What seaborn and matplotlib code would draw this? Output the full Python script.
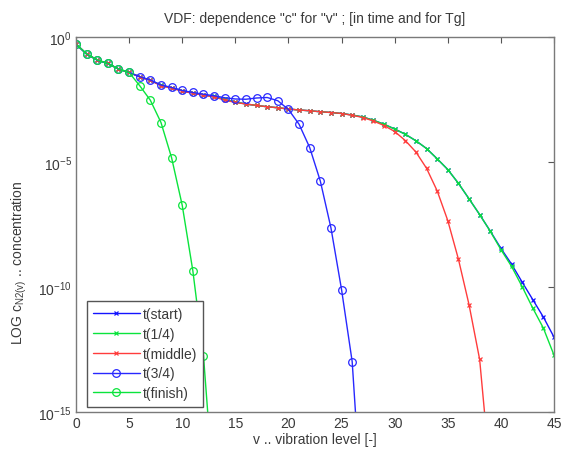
import numpy as np
import pandas as pd
import matplotlib
matplotlib.use("Agg")
import matplotlib.pyplot as plt
import seaborn as sns

# vibrational distribution, log10 of the concentration per level
v_start = list(range(0, 46))
log_c_start = [-0.28, -0.68, -0.92, -1.06, -1.28, -1.42, -1.59, -1.73, -1.93, -2.03,
               -2.15, -2.23, -2.31, -2.38, -2.50, -2.60, -2.68, -2.74, -2.79, -2.83,
               -2.88, -2.92, -2.95, -2.99, -3.02, -3.06, -3.12, -3.20, -3.33, -3.49,
               -3.68, -3.89, -4.15, -4.46, -4.87, -5.30, -5.85, -6.47, -7.10, -7.76,
               -8.45, -9.08, -9.80, -10.50, -11.20, -12.00]

v_quarter = list(range(0, 46))
log_c_quarter = [-0.28, -0.68, -0.92, -1.06, -1.28, -1.42, -1.59, -1.73, -1.93, -2.03,
                 -2.15, -2.23, -2.31, -2.38, -2.50, -2.60, -2.68, -2.74, -2.79, -2.83,
                 -2.88, -2.92, -2.95, -2.99, -3.02, -3.06, -3.12, -3.20, -3.33, -3.49,
                 -3.68, -3.89, -4.15, -4.46, -4.87, -5.30, -5.85, -6.47, -7.10, -7.77,
                 -8.50, -9.17, -9.98, -10.84, -11.64, -12.72]

v_middle = list(range(0, 40))
log_c_middle = [-0.28, -0.68, -0.92, -1.06, -1.28, -1.42, -1.60, -1.74, -1.95, -2.05,
                -2.17, -2.25, -2.33, -2.40, -2.52, -2.62, -2.68, -2.74, -2.79, -2.83,
                -2.88, -2.92, -2.95, -2.99, -3.02, -3.06, -3.13, -3.22, -3.36, -3.54,
                -3.78, -4.14, -4.60, -5.25, -6.15, -7.34, -8.88, -10.70, -12.89, -17.50]

v_three_quarter = list(range(0, 28))
log_c_three_quarter = [-0.30, -0.68, -0.93, -1.06, -1.28, -1.42, -1.59, -1.72, -1.92, -2.02,
                       -2.14, -2.22, -2.29, -2.35, -2.43, -2.48, -2.49, -2.44, -2.42, -2.55,
                       -2.90, -3.49, -4.42, -5.76, -7.63, -10.10, -12.98, -19.50]

v_finish = list(range(0, 14))
log_c_finish = [-0.28, -0.68, -0.92, -1.06, -1.28, -1.42, -1.95, -2.53, -3.42, -4.83,
                -6.73, -9.35, -12.74, -18.40]

series = [
    ("t(start)", v_start, log_c_start, "#1414ff", "x"),
    ("t(1/4)", v_quarter, log_c_quarter, "#0ae43c", "x"),
    ("t(middle)", v_middle, log_c_middle, "#ff3c3c", "x"),
    ("t(3/4)", v_three_quarter, log_c_three_quarter, "#2828ff", "o"),
    ("t(finish)", v_finish, log_c_finish, "#0ae43c", "o"),
]

sns.set_style("white")
plt.rcParams["font.family"] = ["Liberation Sans", "DejaVu Sans"]
plt.rcParams["mathtext.default"] = "regular"

fig = plt.figure(figsize=(5.63, 4.52), dpi=100)
ax = fig.add_axes([0.135, 0.086, 0.849, 0.830])

for label, v, logc, color, marker in series:
    df = pd.DataFrame({"v": v, "c": np.power(10.0, logc)})
    ms = 3.5 if marker == "x" else 5.5
    sns.lineplot(data=df, x="v", y="c", ax=ax, color=color, linewidth=1.0,
                 marker=marker, markersize=ms, markeredgecolor=color,
                 markerfacecolor="none", markeredgewidth=0.9, label=label)

ax.set_yscale("log")
ax.set_xlim(0, 45)
ax.set_ylim(1e-15, 1)
ax.set_xticks(range(0, 46, 5))
ax.set_yticks([1e-15, 1e-10, 1e-5, 1])
ax.yaxis.set_minor_locator(matplotlib.ticker.NullLocator())

text_color = "#3a3a3a"
fs = 10
for s in ax.spines.values():
    s.set_color("#7a7a7a")
    s.set_linewidth(1.0)
ax.tick_params(axis="both", which="both", direction="in", top=True, right=True,
               length=4, width=0.8, color="#555555", labelsize=fs,
               labelcolor=text_color, pad=3)

ax.set_title('VDF: dependence "c" for "v" ; [in time and for Tg]',
             fontsize=fs, color=text_color, pad=11)
ax.set_xlabel("v .. vibration level [-]", fontsize=fs, color=text_color, labelpad=1)
ax.set_ylabel(r"LOG c$_{N2(v)}$ .. concentration", fontsize=fs, color=text_color)
ax.yaxis.set_label_coords(-0.098, 0.40)

leg = ax.legend(loc="lower left", bbox_to_anchor=(0.022, 0.015), borderaxespad=0,
                fontsize=fs, handlelength=3.4, labelspacing=0.42, handletextpad=0.2,
                borderpad=0.45, fancybox=False, framealpha=1.0, edgecolor="#555555")
leg.get_frame().set_linewidth(1.0)
for t in leg.get_texts():
    t.set_color(text_color)

fig.savefig("out.png", dpi=100)
